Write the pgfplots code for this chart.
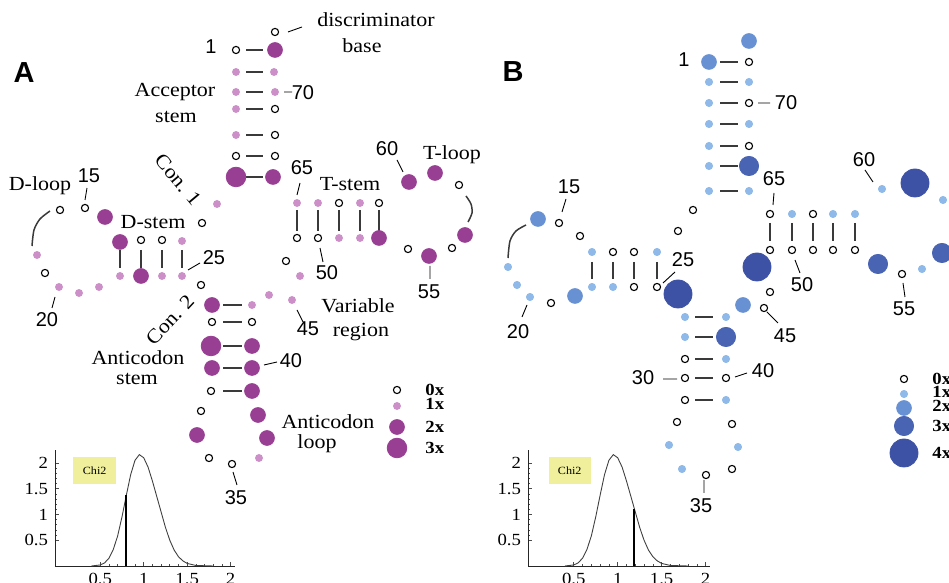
\documentclass[border=0pt]{standalone}
\usepackage{pgfplots}
\pgfplotsset{compat=1.18}
\usepackage{fontspec}
\setmainfont{Liberation Serif}[FakeStretch=1.1]
\newfontfamily\numfont{Liberation Sans}
\definecolor{purpD}{HTML}{983E93}
\definecolor{purpL}{HTML}{CC8FC8}
\definecolor{blueL}{HTML}{8EB9E8}
\definecolor{blueB}{HTML}{6891D3}
\definecolor{blueC}{HTML}{4A64B4}
\definecolor{blueD}{HTML}{3D52A5}
\definecolor{chiyellow}{HTML}{F0F09C}
\definecolor{pairline}{HTML}{3A3A3A}

\newcommand{\lbl}{\fontsize{10}{11}\selectfont}
\newcommand{\nlbl}{\numfont\fontsize{10}{11}\selectfont}

\pgfplotsset{
  open/.style={only marks, mark=o, mark size=1.8pt, mark options={draw=black, line width=0.55pt}},
  dot/.style 2 args={only marks, mark=*, mark size=#2, mark options={draw=#1, fill=#1}},
  pair/.style={draw=pairline, line width=0.75pt, unbounded coords=jump, mark=none},
  lead/.style={draw=black, line width=0.45pt, unbounded coords=jump, mark=none},
  chi/.style={scale only axis, anchor=south west, width=90pt, height=58pt,
    xmin=-0.02, xmax=2.05, ymin=0, ymax=2.25,
    axis lines=left, axis line style={-, black!85, line width=0.4pt},
    xtick={0.5,1,1.5,2}, ytick={0.5,1,1.5,2}, minor tick num=4,
    tick align=inside, major tick length=2pt, minor tick length=1.2pt,
    tick style={black!70, line width=0.3pt},
    ticklabel style={font=\fontsize{8.5}{9}\selectfont},
    /pgf/number format/assume math mode=true, clip=false},
}
\tikzset{legtxt/.style={font=\bfseries\fontsize{8.5}{9}\selectfont, anchor=west, inner sep=0pt}}

\begin{document}
\begin{tikzpicture}
\useasboundingbox (0,0) rectangle (474.5pt,291.5pt);
\clip (0,0) rectangle (474.5pt,291.5pt);
\begin{axis}[at={(0,0)}, anchor=south west, scale only axis,
  width=474.5pt, height=291.5pt,
  xmin=0, xmax=949, ymin=0, ymax=583, y dir=reverse, hide axis, clip=false]

% ---------- panel A: stems ----------
\addplot[pair] coordinates {
 (246,50) (263,50) (nan,nan) (246,72) (263,72) (nan,nan) (246,92) (263,92) (nan,nan)
 (246,109) (263,109) (nan,nan) (246,135) (263,135) (nan,nan) (246,156) (263,156) (nan,nan)
 (246,177) (263,177) (nan,nan)
 (223,305) (242,305) (nan,nan) (223,322) (242,322) (nan,nan) (223,346) (242,346) (nan,nan)
 (223,368) (242,368) (nan,nan) (223,391) (242,391) (nan,nan)
 (120,250) (120,268) (nan,nan) (141,250) (141,268) (nan,nan) (162,250) (162,268) (nan,nan)
 (182,250) (182,268) (nan,nan)
 (297,210) (297,231) (nan,nan) (318,210) (318,231) (nan,nan) (339,210) (339,231) (nan,nan)
 (360,210) (360,231) (nan,nan) (379,210) (379,231)};
\addplot[lead] coordinates {
 (288,32) (302,27) (nan,nan) (284,92) (292,92) (nan,nan) (300,183) (297,195) (nan,nan)
 (87,188) (85,200) (nan,nan) (188,270) (200,263) (nan,nan) (55,297) (52,308) (nan,nan)
 (397,160) (403,172) (nan,nan) (320,248) (323,262) (nan,nan) (430,266) (430,279) (nan,nan)
 (297,310) (303,322) (nan,nan) (264,365) (277,362) (nan,nan) (233,472) (237,485)};
\addplot[pair, smooth] coordinates {(32,246) (34,230) (40,219) (50,211)};
\addplot[pair, smooth] coordinates {(466,196) (471,204) (472,213) (468,222)};

% ---------- panel A: nucleotides ----------
\addplot[open] coordinates {
 (275,32) (236,50) (275,109) (275,135) (236,156) (275,156) (202,223) (60,210) (85,208)
 (141,240) (162,240) (45,273) (201,285) (339,203) (379,203) (297,238) (318,238)
 (459,185) (452,248) (408,249) (286,261) (212,322) (252,322) (211,391) (201,411)
 (209,458) (232,464) (397,390)};
\addplot[dot={purpL}{1.75pt}] coordinates {
 (236,72) (274,72) (236,92) (275,92) (236,109) (236,135) (217,204) (182,241)
 (120,276) (162,276) (182,276) (37,255) (59,287) (79,293) (99,287) (297,203) (318,203)
 (360,203) (339,238) (360,238) (300,276) (269,295) (292,300) (252,305) (259,458)
 (397,406)};
\addplot[dot={purpD}{3.7pt}] coordinates {
 (275,50) (273,177) (105,217) (120,242) (141,276) (379,238) (409,182) (435,173)
 (465,235) (429,256) (212,305) (252,346) (212,368) (252,368) (252,391) (258,415)
 (197,435) (267,438) (397,427)};
\addplot[dot={purpD}{4.9pt}] coordinates {(236,177) (211,346) (397,448)};

% ---------- panel A: text ----------
\node[font=\numfont\bfseries\fontsize{14.5}{15}\selectfont] at (axis cs:24,73) {A};
\node[font=\lbl] at (axis cs:376,20) {discriminator};
\node[font=\lbl] at (axis cs:362,46) {base};
\node[font=\nlbl] at (axis cs:211,47) {1};
\node[font=\nlbl] at (axis cs:303,93) {70};
\node[font=\lbl] at (axis cs:175,92) {Acceptor};
\node[font=\lbl] at (axis cs:176,117) {stem};
\node[font=\nlbl] at (axis cs:302,168) {65};
\node[font=\lbl, rotate=-50] at (axis cs:178,180) {Con. 1};
\node[font=\lbl] at (axis cs:40,186) {D-loop};
\node[font=\nlbl] at (axis cs:89,176) {15};
\node[font=\lbl] at (axis cs:153,222) {D-stem};
\node[font=\nlbl] at (axis cs:214,258) {25};
\node[font=\nlbl] at (axis cs:47,320) {20};
\node[font=\lbl] at (axis cs:350,184) {T-stem};
\node[font=\nlbl] at (axis cs:387,149) {60};
\node[font=\lbl] at (axis cs:452,155) {T-loop};
\node[font=\nlbl] at (axis cs:327,273) {50};
\node[font=\nlbl] at (axis cs:429,292) {55};
\node[font=\lbl] at (axis cs:358,306) {Variable};
\node[font=\lbl] at (axis cs:361,332) {region};
\node[font=\nlbl] at (axis cs:308,329) {45};
\node[font=\nlbl] at (axis cs:291,361) {40};
\node[font=\lbl, rotate=47] at (axis cs:170,320) {Con. 2};
\node[font=\lbl] at (axis cs:138,358) {Anticodon};
\node[font=\lbl] at (axis cs:137,379) {stem};
\node[font=\lbl] at (axis cs:328,422) {Anticodon};
\node[font=\lbl] at (axis cs:317,444) {loop};
\node[font=\nlbl] at (axis cs:236,498) {35};
\node[legtxt] at (axis cs:425,390) {0x};
\node[legtxt] at (axis cs:425,404) {1x};
\node[legtxt] at (axis cs:425,427) {2x};
\node[legtxt] at (axis cs:425,448) {3x};

% ---------- panel B: stems ----------
\addplot[pair] coordinates {
 (720,62) (738,62) (nan,nan) (720,82) (738,82) (nan,nan) (720,103) (738,103) (nan,nan)
 (720,124) (738,124) (nan,nan) (720,146) (738,146) (nan,nan) (720,166) (738,166) (nan,nan)
 (720,191) (738,191) (nan,nan)
 (695,317) (713,317) (nan,nan) (695,337) (713,337) (nan,nan) (695,359) (713,359) (nan,nan)
 (695,378) (713,378) (nan,nan) (695,400) (713,400) (nan,nan)
 (592,262) (592,279) (nan,nan) (613,262) (613,279) (nan,nan) (634,262) (634,279) (nan,nan)
 (657,262) (657,279) (nan,nan)
 (770,223) (770,241) (nan,nan) (792,223) (792,241) (nan,nan) (813,223) (813,241) (nan,nan)
 (833,223) (833,241) (nan,nan) (855,223) (855,241)};
\addplot[lead] coordinates {
 (758,103) (770,103) (nan,nan) (774,193) (773,205) (nan,nan) (865,170) (873,182) (nan,nan)
 (566,199) (562,212) (nan,nan) (663,283) (675,272) (nan,nan) (527,305) (522,317) (nan,nan)
 (795,260) (800,273) (nan,nan) (903,283) (905,297) (nan,nan) (767,312) (778,323) (nan,nan)
 (735,377) (747,373) (nan,nan) (663,379) (677,379) (nan,nan) (704,480) (704,493)};
\addplot[pair, smooth] coordinates {(508,258) (510,241) (516,231) (526,225)};

% ---------- panel B: nucleotides ----------
\addplot[open] coordinates {
 (749,62) (749,103) (749,146) (693,210) (678,231) (559,223) (580,236) (613,252)
 (634,252) (634,287) (657,287) (551,303) (770,214) (813,214) (770,250) (792,250)
 (813,250) (833,250) (855,250) (770,292) (764,308) (902,274) (685,359) (685,378)
 (726,378) (685,400) (677,422) (732,424) (706,475) (732,469) (904,379)};
\addplot[dot={blueL}{1.8pt}] coordinates {
 (709,82) (749,82) (709,103) (709,124) (749,124) (709,146) (709,166) (709,191) (749,191)
 (592,252) (657,252) (592,287) (613,287) (508,267) (517,285) (530,297) (792,214)
 (833,214) (855,214) (882,189) (943,200) (922,269) (685,317) (726,317) (685,337)
 (726,359) (726,400) (669,445) (738,447) (682,469) (904,394)};
\addplot[dot={blueB}{3.7pt}] coordinates {(749,41) (709,62) (538,219) (575,296) (743,305) (904,408)};
\addplot[dot={blueC}{4.8pt}] coordinates {(749,166) (878,264) (942,253) (726,337) (904,426)};
\addplot[dot={blueD}{7pt}] coordinates {(915,183) (757,267) (678,294) (904,453)};

% ---------- panel B: text ----------
\node[font=\numfont\bfseries\fontsize{14.5}{15}\selectfont] at (axis cs:513,72) {B};
\node[font=\nlbl] at (axis cs:684,60) {1};
\node[font=\nlbl] at (axis cs:786,103) {70};
\node[font=\nlbl] at (axis cs:774,179) {65};
\node[font=\nlbl] at (axis cs:864,160) {60};
\node[font=\nlbl] at (axis cs:569,187) {15};
\node[font=\nlbl] at (axis cs:683,260) {25};
\node[font=\nlbl] at (axis cs:802,285) {50};
\node[font=\nlbl] at (axis cs:518,332) {20};
\node[font=\nlbl] at (axis cs:785,336) {45};
\node[font=\nlbl] at (axis cs:904,309) {55};
\node[font=\nlbl] at (axis cs:643,378) {30};
\node[font=\nlbl] at (axis cs:763,371) {40};
\node[font=\nlbl] at (axis cs:701,506) {35};
\node[legtxt] at (axis cs:932,379) {0x};
\node[legtxt] at (axis cs:932,392) {1x};
\node[legtxt] at (axis cs:932,406) {2x};
\node[legtxt] at (axis cs:932,426) {3x};
\node[legtxt] at (axis cs:932,453) {4x};
\end{axis}

% ---------- Chi2 insets ----------
\begin{axis}[chi, at={(27.5pt,8.5pt)}]
\addplot[black!75, line width=0.45pt] coordinates {
 (0.40,0) (0.50,0.02) (0.55,0.06) (0.60,0.15) (0.65,0.32) (0.70,0.58) (0.75,0.95)
 (0.80,1.37) (0.85,1.77) (0.90,2.05) (0.95,2.16) (1.00,2.10) (1.05,1.92) (1.10,1.65)
 (1.15,1.35) (1.20,1.05) (1.25,0.75) (1.30,0.50) (1.35,0.31) (1.40,0.18) (1.45,0.10)
 (1.50,0.05) (1.60,0.01) (1.80,0)};
\addplot[black, line width=1.1pt] coordinates {(0.80,0) (0.80,1.37)};
\node[fill=chiyellow, minimum width=21.5pt, minimum height=13.5pt, inner sep=0pt,
  font=\fontsize{5.5}{6}\selectfont] at (axis cs:0.436,1.85) {Chi2};
\end{axis}
\begin{axis}[chi, at={(264pt,8.5pt)}, width=91pt]
\addplot[black!75, line width=0.45pt] coordinates {
 (0.40,0) (0.50,0.02) (0.55,0.06) (0.60,0.15) (0.65,0.32) (0.70,0.58) (0.75,0.95)
 (0.80,1.37) (0.85,1.77) (0.90,2.05) (0.95,2.16) (1.00,2.10) (1.05,1.92) (1.10,1.65)
 (1.15,1.35) (1.20,1.05) (1.25,0.75) (1.30,0.50) (1.35,0.31) (1.40,0.18) (1.45,0.10)
 (1.50,0.05) (1.60,0.01) (1.80,0)};
\addplot[black, line width=1.1pt] coordinates {(1.19,0) (1.19,1.10)};
\node[fill=chiyellow, minimum width=21pt, minimum height=13.5pt, inner sep=0pt,
  font=\fontsize{5.5}{6}\selectfont] at (axis cs:0.455,1.85) {Chi2};
\end{axis}
\end{tikzpicture}
\end{document}
